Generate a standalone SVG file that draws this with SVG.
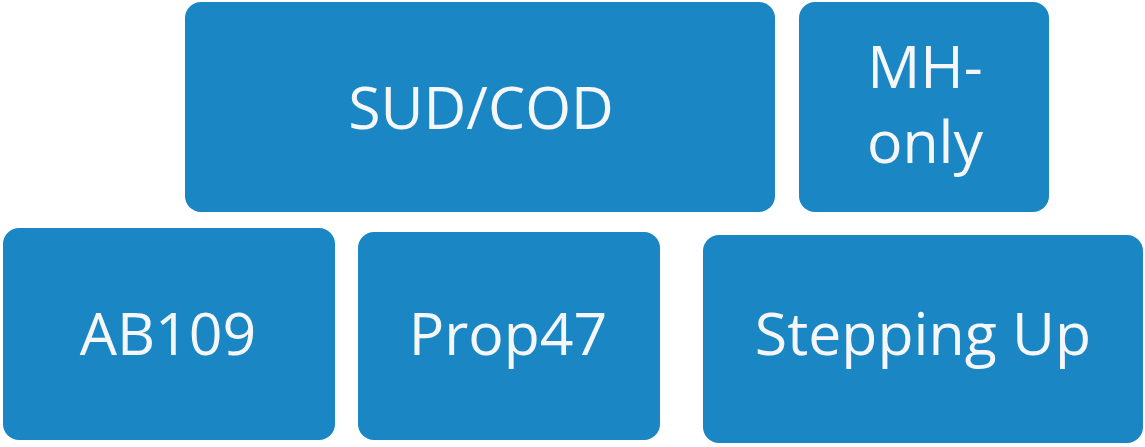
<svg xmlns="http://www.w3.org/2000/svg" width="1145" height="447" viewBox="0 0 1145 447">
<style>
.box{fill:#1a86c3;}
.lbl{fill:#f4f6f8;font-family:"Open Sans","Liberation Sans",sans-serif;font-size:59px;text-anchor:middle;}
</style>
<rect width="1145" height="447" fill="#ffffff"/>
<g id="sud-cod"><rect class="box" x="185" y="2" width="590" height="210" rx="16"/><text class="lbl" x="481" y="129">SUD/COD</text></g>
<g id="mh-only"><rect class="box" x="799" y="2" width="250" height="210" rx="16"/><text class="lbl" x="925" y="88">MH-</text><text class="lbl" x="925" y="163">only</text></g>
<g id="ab109"><rect class="box" x="3" y="228" width="332" height="212" rx="16"/><text class="lbl" x="168" y="355">AB109</text></g>
<g id="prop47"><rect class="box" x="358" y="232" width="302" height="208" rx="16"/><text class="lbl" x="508" y="355">Prop47</text></g>
<g id="stepping-up"><rect class="box" x="703" y="235" width="440" height="208" rx="16"/><text class="lbl" x="923" y="355">Stepping Up</text></g>
<g id="connectors"/>
</svg>
